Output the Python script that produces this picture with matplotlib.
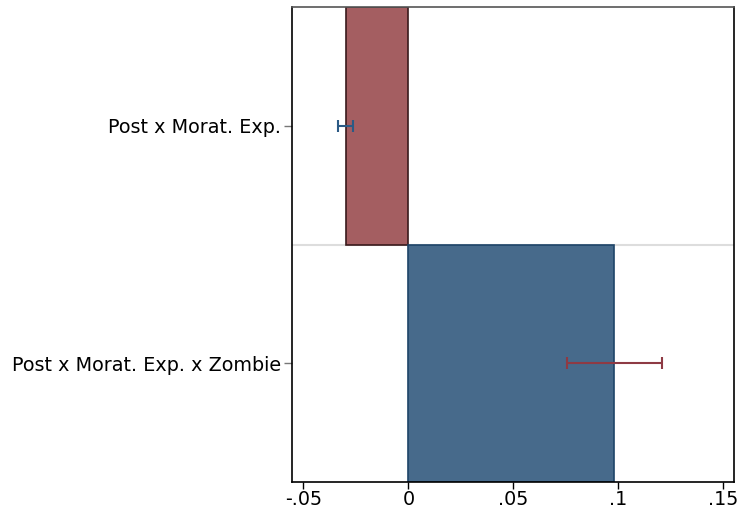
import matplotlib
matplotlib.use("Agg")
import matplotlib.pyplot as plt
import numpy as np

# Coefficients with 95% confidence intervals
labels = ["Post x Morat. Exp.", "Post x Morat. Exp. x Zombie"]
coef = [-0.0297, 0.0981]
ci_low = [-0.0333, 0.0756]
ci_high = [-0.0265, 0.1210]
xticks = [-0.05, 0, 0.05, 0.1, 0.15]
xticklabels = ["-.05", "0", ".05", ".1", ".15"]

bar_colors = ["#a45e61", "#476a8b"]
edge_colors = ["#3a1a1c", "#1e4468"]
err_colors = ["#2b5a85", "#8e3a44"]

fig = plt.figure(figsize=(7.37, 5.14), dpi=100)
ax = fig.add_axes([292 / 737, 1 - 482 / 514, 442 / 737, (482 - 7.3) / 514])

y = np.arange(len(labels))
for i in range(len(labels)):
    ax.barh(y[i], coef[i], height=1.0, color=bar_colors[i],
            edgecolor=edge_colors[i], linewidth=1.2, zorder=2)
    ax.errorbar(coef[i], y[i],
                xerr=[[coef[i] - ci_low[i]], [ci_high[i] - coef[i]]],
                fmt="none", ecolor=err_colors[i], elinewidth=1.5,
                capsize=4, capthick=1.5, zorder=3)

# separator between the two coefficients
ax.axhline(0.5, color="#dddddd", linewidth=1.5, zorder=1)

ax.set_xlim(-0.0554, 0.1551)
ax.set_ylim(1.5, -0.5)
ax.set_yticks(y)
ax.set_yticklabels(labels, fontsize=13.8)
ax.set_xticks(xticks)
ax.set_xticklabels(xticklabels, fontsize=13.8)

ax.tick_params(axis="y", length=6, width=1, color="#777777", pad=2)
ax.tick_params(axis="x", length=5, width=1, color="black", pad=1)

for side in ["left", "bottom", "right"]:
    ax.spines[side].set_color("black")
    ax.spines[side].set_linewidth(1.2)
ax.spines["top"].set_color("#555555")
ax.spines["top"].set_linewidth(1.2)

fig.savefig("out.png", dpi=100)
